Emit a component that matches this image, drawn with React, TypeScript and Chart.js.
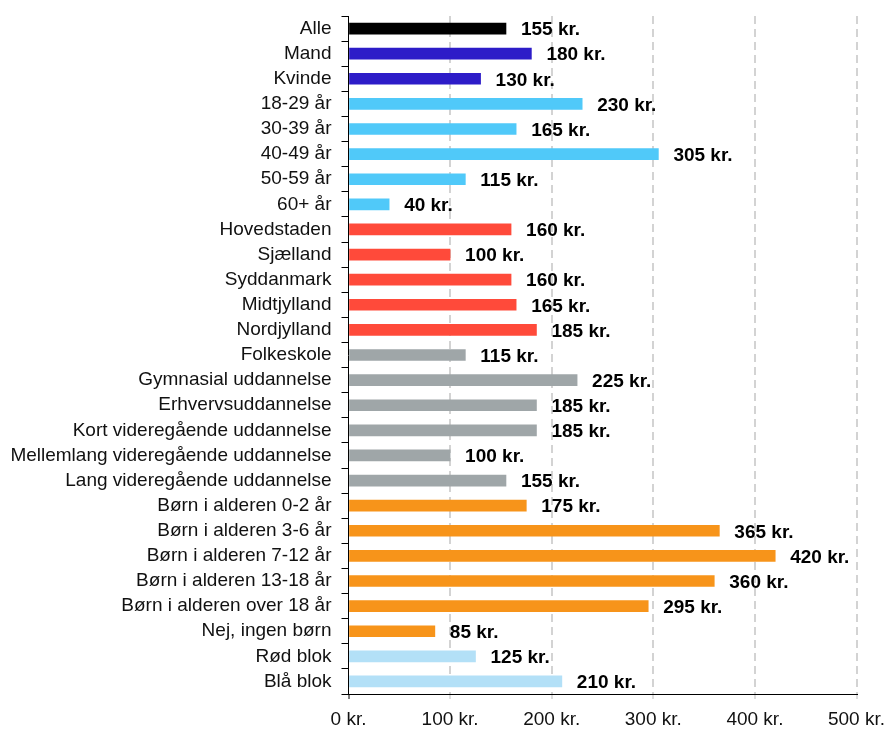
import React, { useEffect, useRef } from "react";
import { Chart, registerables } from "chart.js";

Chart.register(...registerables);

const categories = [
  "Alle", "Mand", "Kvinde", "18-29 år", "30-39 år", "40-49 år", "50-59 år", "60+ år",
  "Hovedstaden", "Sjælland", "Syddanmark", "Midtjylland", "Nordjylland",
  "Folkeskole", "Gymnasial uddannelse", "Erhvervsuddannelse", "Kort videregående uddannelse",
  "Mellemlang videregående uddannelse", "Lang videregående uddannelse",
  "Børn i alderen 0-2 år", "Børn i alderen 3-6 år", "Børn i alderen 7-12 år",
  "Børn i alderen 13-18 år", "Børn i alderen over 18 år", "Nej, ingen børn",
  "Rød blok", "Blå blok",
];

const values = [
  155, 180, 130, 230, 165, 305, 115, 40,
  160, 100, 160, 165, 185,
  115, 225, 185, 185, 100, 155,
  175, 365, 420, 360, 295, 85,
  125, 210,
];

const groupColors = {
  all: "#000000",
  gender: "#2d1cc8",
  age: "#50c9f9",
  region: "#ff4a3a",
  edu: "#9fa6a8",
  kids: "#f7941a",
  bloc: "#b3e0f7",
};

const barGroups = [
  "all", "gender", "gender", "age", "age", "age", "age", "age",
  "region", "region", "region", "region", "region",
  "edu", "edu", "edu", "edu", "edu", "edu",
  "kids", "kids", "kids", "kids", "kids", "kids",
  "bloc", "bloc",
];

const xTicks = [0, 100, 200, 300, 400, 500];

const FONT = "'Liberation Sans', Arial, sans-serif";

const valueLabels = {
  id: "valueLabels",
  afterDatasetsDraw(chart: any) {
    const ctx = chart.ctx;
    const meta = chart.getDatasetMeta(0);
    ctx.save();
    ctx.font = `bold 19px ${FONT}`;
    ctx.fillStyle = "#000";
    ctx.textAlign = "left";
    ctx.textBaseline = "middle";
    meta.data.forEach((bar: any, i: number) => {
      ctx.fillText(`${values[i]} kr.`, bar.x + 15, bar.y + 1.5);
    });
    ctx.restore();
  },
};

export default function App() {
  const ref = useRef<HTMLCanvasElement | null>(null);
  useEffect(() => {
    if (!ref.current) return;
    const chart = new Chart(ref.current, {
      type: "bar",
      data: {
        labels: categories,
        datasets: [
          {
            data: values,
            backgroundColor: barGroups.map((g) => (groupColors as any)[g]),
            barThickness: 11,
          },
        ],
      },
      options: {
        indexAxis: "y",
        responsive: false,
        animation: false,
        layout: { padding: { top: 16, right: 32.5, left: 0, bottom: 0 } },
        plugins: { legend: { display: false }, tooltip: { enabled: false } },
        scales: {
          x: {
            min: 0,
            max: 500,
            afterBuildTicks: (scale: any) => {
              scale.ticks = xTicks.map((v) => ({ value: v }));
            },
            afterFit: (scale: any) => {
              scale.height = 37;
              scale.paddingLeft = 0;
              scale.paddingRight = 0;
            },
            border: { display: true, color: "#000", width: 1, dash: [8, 5] },
            grid: {
              color: (c: any) => (c.index === 0 ? "rgba(0,0,0,0)" : "#d3d3d3"),
              tickColor: (c: any) => (c.index === 0 ? "#000" : "#bdbdbd"),
              lineWidth: 2,
              tickWidth: 1,
              tickLength: 5,
              tickBorderDash: [],
            },
            ticks: {
              color: "#111",
              font: { family: FONT, size: 19 },
              padding: 9,
              maxRotation: 0,
              callback: (v: any) => `${v} kr.`,
            },
          } as any,
          y: {
            afterFit: (scale: any) => {
              scale.width = 348.5;
              scale.paddingTop = 0;
              scale.paddingBottom = 0;
            },
            border: { display: true, color: "#000", width: 1 },
            grid: {
              drawOnChartArea: false,
              offset: true,
              color: "#000",
              tickLength: 7,
              lineWidth: 1,
            },
            ticks: {
              color: "#111",
              font: { family: FONT, size: 19 },
              padding: 10,
              autoSkip: false,
            },
          },
        },
      },
      plugins: [valueLabels],
    } as any);
    return () => chart.destroy();
  }, []);
  return (
    <div style={{ position: "fixed", left: 0, top: 0, width: 889, height: 731, background: "#fff" }}>
      <canvas ref={ref} width={889} height={731} style={{ display: "block" }} />
    </div>
  );
}
